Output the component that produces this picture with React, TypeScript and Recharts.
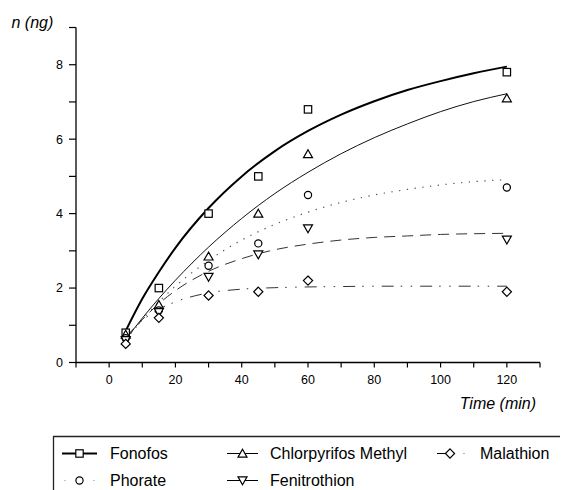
import React from 'react';
import { ComposedChart, Line, Scatter, XAxis, YAxis, Label } from 'recharts';

// Measured points
const timePoints = [5, 15, 30, 45, 60, 120];
const fonofos = [0.8, 2.0, 4.0, 5.0, 6.8, 7.8];
const chlorpyrifosMethyl = [0.75, 1.55, 2.85, 4.0, 5.6, 7.1];
const phorate = [0.65, 1.4, 2.6, 3.2, 4.5, 4.7];
const fenitrothion = [0.6, 1.35, 2.3, 2.9, 3.6, 3.3];
const malathion = [0.5, 1.2, 1.8, 1.9, 2.2, 1.9];

// Fitted curves
const curveTimes = [5, 10, 15, 20, 30, 40, 50, 60, 70, 80, 90, 100, 110, 120];
const fonofosFit = [0.85, 1.71, 2.43, 3.08, 4.15, 5.0, 5.68, 6.22, 6.66, 7.02, 7.32, 7.56, 7.77, 7.95];
const chlorpyrifosFit = [0.62, 1.19, 1.72, 2.21, 3.1, 3.87, 4.54, 5.11, 5.61, 6.04, 6.41, 6.74, 7.01, 7.22];
const phorateFit = [0.61, 1.15, 1.63, 2.05, 2.74, 3.29, 3.71, 4.04, 4.3, 4.5, 4.65, 4.77, 4.86, 4.91];
const fenitrothionFit = [0.63, 1.15, 1.58, 1.93, 2.45, 2.79, 3.03, 3.18, 3.29, 3.36, 3.4, 3.44, 3.46, 3.47];
const malathionFit = [0.68, 1.13, 1.43, 1.63, 1.87, 1.97, 2.01, 2.03, 2.04, 2.05, 2.05, 2.05, 2.05, 2.05];

const xTicks = [-10, 0, 10, 20, 30, 40, 50, 60, 70, 80, 90, 100, 110, 120, 130];
const yTicks = [0, 1, 2, 3, 4, 5, 6, 7, 8, 9];

const FONT = '"Liberation Sans", Arial, Helvetica, sans-serif';

type Kind = 'square' | 'circle' | 'triUp' | 'triDown' | 'diamond';

const Marker = ({ kind, cx, cy }: { kind: Kind; cx: number; cy: number }) => {
  const common = { fill: '#fff', stroke: '#000', strokeWidth: 1.2 };
  if (cx == null || cy == null) return null;
  switch (kind) {
    case 'square':
      return <rect x={cx - 3.7} y={cy - 3.7} width={7.4} height={7.4} {...common} />;
    case 'circle':
      return <circle cx={cx} cy={cy} r={3.6} {...common} />;
    case 'triUp':
      return <polygon points={`${cx},${cy - 4.3} ${cx + 4.5},${cy + 3.6} ${cx - 4.5},${cy + 3.6}`} {...common} />;
    case 'triDown':
      return <polygon points={`${cx},${cy + 4.3} ${cx + 4.5},${cy - 3.6} ${cx - 4.5},${cy - 3.6}`} {...common} />;
    case 'diamond':
      return <polygon points={`${cx},${cy - 4.6} ${cx + 4.6},${cy} ${cx},${cy + 4.6} ${cx - 4.6},${cy}`} {...common} />;
  }
  return null;
};

const series = [
  { name: 'Fonofos', pts: fonofos, fit: fonofosFit, kind: 'square' as Kind, width: 2, dash: undefined as string | undefined, color: '#000', lcol: 0, lrow: 0 },
  { name: 'Chlorpyrifos Methyl', pts: chlorpyrifosMethyl, fit: chlorpyrifosFit, kind: 'triUp' as Kind, width: 1, dash: undefined, color: '#111', lcol: 1, lrow: 0 },
  { name: 'Phorate', pts: phorate, fit: phorateFit, kind: 'circle' as Kind, width: 1.2, dash: '1.3 6.5', color: '#555', lcol: 0, lrow: 1 },
  { name: 'Fenitrothion', pts: fenitrothion, fit: fenitrothionFit, kind: 'triDown' as Kind, width: 1, dash: '11 7', color: '#333', lcol: 1, lrow: 1 },
  { name: 'Malathion', pts: malathion, fit: malathionFit, kind: 'diamond' as Kind, width: 1, dash: '12 7 1.5 8.5 1.5 8', color: '#333', lcol: 2, lrow: 0 },
];

const legendCols = [
  { sx: 9, ex: 44, tx: 57 },
  { sx: 174, ex: 205, tx: 217 },
  { sx: 384, ex: 414, tx: 427 },
];
const legendRows = [17.5, 44.5];

const Legend = () => (
  <svg
    width={515}
    height={55}
    style={{ position: 'absolute', left: 45, top: 427.5, overflow: 'visible' }}
  >
    <line x1={0} y1={0.5} x2={515} y2={0.5} stroke="#222" strokeWidth={1.3} />
    <line x1={0.5} y1={0} x2={0.5} y2={55} stroke="#222" strokeWidth={1.3} />
    {series.map((s) => {
      const c = legendCols[s.lcol];
      const y = legendRows[s.lrow];
      const mid = (c.sx + c.ex) / 2;
      let lineEl;
      if (s.name === 'Phorate') {
        lineEl = (
          <g>
            <circle cx={c.sx + 3} cy={y} r={0.6} fill="#777" />
            <circle cx={c.ex - 3} cy={y} r={0.6} fill="#777" />
          </g>
        );
      } else if (s.name === 'Malathion') {
        lineEl = (
          <g>
            <line x1={c.sx} y1={y} x2={mid} y2={y} stroke="#000" strokeWidth={1} />
            <circle cx={c.ex - 3} cy={y} r={0.6} fill="#555" />
          </g>
        );
      } else {
        lineEl = <line x1={c.sx} y1={y} x2={c.ex} y2={y} stroke="#000" strokeWidth={s.width} />;
      }
      return (
        <g key={s.name}>
          {lineEl}
          <Marker kind={s.kind} cx={s.name === 'Malathion' ? mid - 2 : mid} cy={y} />
          <text x={c.tx} y={y + 5.7} fontSize={16} fontFamily={FONT} fill="#000">
            {s.name}
          </text>
        </g>
      );
    })}
  </svg>
);

const TimeLabel = (props: any) => {
  const vb = props.viewBox || {};
  return (
    <text x={vb.x + vb.width - 4} y={vb.y + 46} textAnchor="end" fontSize={16} fontStyle="italic" fontFamily={FONT} fill="#000">
      Time (min)
    </text>
  );
};

const NLabel = (props: any) => {
  const vb = props.viewBox || {};
  return (
    <text x={vb.x + 3.5} y={vb.y + 0} fontSize={16} fontStyle="italic" fontFamily={FONT} fill="#000">
      n (ng)
    </text>
  );
};

export default function App() {
  return (
    <div style={{ position: 'relative', width: 560, height: 482, fontFamily: FONT }}>
      <ComposedChart
        width={560}
        height={482}
        margin={{ top: 19.5, right: 28, left: 0, bottom: 97.5 }}
        style={{ fontFamily: FONT }}
      >
        <XAxis
          type="number"
          dataKey="t"
          domain={[-10, 130]}
          ticks={xTicks}
          interval={0}
          allowDataOverflow
          tickFormatter={(v: number) => (v >= 0 && v % 20 === 0 ? String(v) : '')}
          axisLine={{ stroke: '#000', strokeWidth: 1.3 }}
          tickLine={{ stroke: '#000', strokeWidth: 1.2 }}
          tickSize={5}
          tickMargin={8}
          height={30}
          tick={{ fill: '#000', fontSize: 12.5, fontFamily: FONT }}
        >
          <Label content={TimeLabel} />
        </XAxis>
        <YAxis
          type="number"
          dataKey="v"
          domain={[0, 9]}
          ticks={yTicks}
          interval={0}
          allowDataOverflow
          tickFormatter={(v: number) => (v % 2 === 0 && v <= 8 ? String(v) : '')}
          axisLine={{ stroke: '#000', strokeWidth: 1.3 }}
          tickLine={{ stroke: '#000', strokeWidth: 1.2 }}
          tickSize={7}
          tickMargin={6}
          width={68}
          tick={{ fill: '#000', fontSize: 12.5, fontFamily: FONT }}
        >
          <Label content={NLabel} />
        </YAxis>
        {series.map((s) => (
          <Line
            key={'fit-' + s.name}
            data={curveTimes.map((t, i) => ({ t, v: s.fit[i] }))}
            dataKey="v"
            type="monotone"
            stroke={s.color}
            strokeWidth={s.width}
            strokeDasharray={s.dash}
            dot={false}
            activeDot={false}
            isAnimationActive={false}
            legendType="none"
          />
        ))}
        {series.map((s) => (
          <Scatter
            key={'pts-' + s.name}
            data={timePoints.map((t, i) => ({ t, v: s.pts[i] }))}
            dataKey="v"
            isAnimationActive={false}
            shape={(p: any) => <Marker kind={s.kind} cx={p.cx} cy={p.cy} />}
          />
        ))}
      </ComposedChart>
      <Legend />
    </div>
  );
}
